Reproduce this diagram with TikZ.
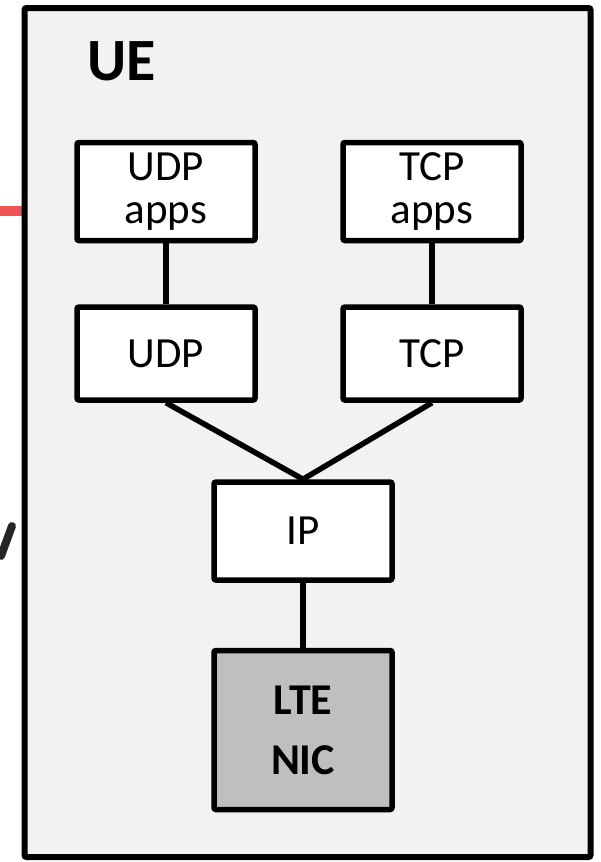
\documentclass[tikz,border=0pt]{standalone}
\usepackage{fontspec}
\setmainfont{Carlito}
\usepackage{tikz}
\usetikzlibrary{positioning}

\definecolor{uegray}{HTML}{F2F2F2}
\definecolor{nicgray}{HTML}{BFBFBF}
\definecolor{fadered}{HTML}{EF5353}

\tikzset{
  layer/.style={draw, line width=2.75pt, fill=white, rounded corners=1pt,
    minimum width=89pt, minimum height=49pt, inner sep=0pt, align=center,
    font=\fontsize{21.5}{21.5}\selectfont},
  link/.style={line width=2.75pt},
}

\begin{document}
\begin{tikzpicture}[x=0.5pt,y=-0.5pt]
		\useasboundingbox (0,0) rectangle (600,862);
		% bits of the neighbouring slide content
		\draw[fadered,line width=5pt] (0,211) -- (24,211);
		\draw[black!85,line width=4pt,line cap=round] (12,526) -- (1,556);
		% UE frame
		\draw[line width=3pt,fill=uegray,rounded corners=1pt] (24.5,8) rectangle (590.5,857);
		\node[anchor=base west,font=\fontsize{30}{30}\selectfont\bfseries] (ue) at (80,80) {UE};
		% protocol stack
		\node[layer] (udpapps) at (166,191.5) {UDP\\apps};
		\node[layer] (tcpapps) at (432,191.5) {TCP\\apps};
		\node[layer,minimum height=46.5pt] (udp) at (166,353.5) {UDP};
		\node[layer,minimum height=46.5pt] (tcp) at (432,353.5) {TCP};
		\node[layer] (ip) at (303,531) {IP};
		\node[layer,fill=nicgray,minimum height=79.5pt,
		  font=\fontsize{22}{30}\selectfont\bfseries] (nic) at (303,730) {LTE\\NIC};
		\draw[link] (udpapps) -- (udp);
		\draw[link] (tcpapps) -- (tcp);
		\draw[link] (udp.south) -- (ip.north);
		\draw[link] (tcp.south) -- (ip.north);
		\draw[link] (ip) -- (nic);
\end{tikzpicture}
\end{document}
